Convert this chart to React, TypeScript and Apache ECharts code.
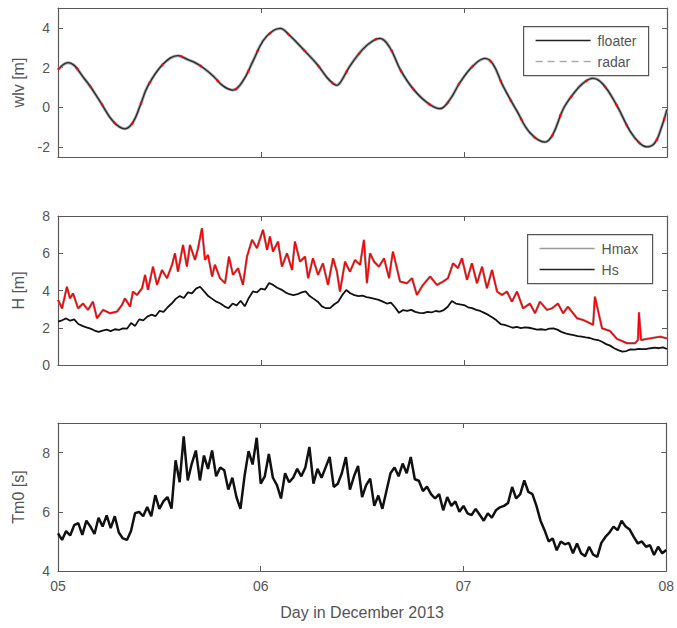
import React, { useEffect, useRef } from "react";
import * as echarts from "echarts";

// ---- Panel 1: water level (days in December 2013) ----
const wlvDays = [5.0, 5.049, 5.133, 5.207, 5.271, 5.33, 5.369, 5.404, 5.443, 5.517, 5.591, 5.64, 5.675, 5.714, 5.764, 5.813, 5.862, 5.911, 5.961, 6.01, 6.059, 6.094, 6.143, 6.207, 6.276, 6.325, 6.355, 6.374, 6.394, 6.438, 6.502, 6.552, 6.586, 6.635, 6.685, 6.744, 6.818, 6.882, 6.931, 6.98, 7.044, 7.103, 7.143, 7.192, 7.261, 7.325, 7.399, 7.438, 7.488, 7.537, 7.586, 7.635, 7.685, 7.754, 7.818, 7.867, 7.901, 7.941, 7.975, 8.0];
const wlvFloater = [1.9, 2.25, 1.4, 0.3, -0.7, -1.08, -0.76, 0.07, 1.08, 2.17, 2.6, 2.4, 2.25, 2.0, 1.58, 1.08, 0.87, 1.33, 2.34, 3.35, 3.85, 3.97, 3.6, 2.93, 2.17, 1.5, 1.2, 1.11, 1.3, 2.08, 2.93, 3.35, 3.47, 3.0, 1.92, 1.0, 0.24, -0.07, 0.4, 1.25, 2.08, 2.46, 2.17, 1.08, -0.19, -1.28, -1.75, -1.36, -0.1, 0.66, 1.21, 1.46, 1.16, 0.07, -1.2, -1.82, -1.99, -1.78, -0.94, -0.1];
const wlvRadar = wlvFloater.slice();

// ---- Panel 2: wave heights ----
// Hs sampled every 0.02 day from 05 Dec 00:00
const sampleStart = 5;
const sampleStep = 0.02;
const hsValues = [
  2.33, 2.4, 2.5, 2.38, 2.45, 2.2, 2.1, 2.02, 1.95, 1.85,
  1.78, 1.85, 1.9, 1.82, 1.92, 1.88, 1.97, 1.95, 2.25, 2.1,
  2.45, 2.4, 2.6, 2.7, 2.62, 2.9, 2.85, 3.1, 3.3, 3.55,
  3.7, 3.6, 3.9, 3.85, 4.1, 4.2, 3.95, 3.7, 3.55, 3.4,
  3.3, 3.15, 3.05, 3.3, 3.2, 3.45, 3.15, 3.6, 3.95, 3.9,
  4.1, 4.05, 4.4, 4.3, 4.15, 4.05, 3.9, 3.8, 3.75, 3.8,
  3.9, 3.95, 3.7, 3.55, 3.4, 3.15, 3.05, 3.05, 3.25, 3.4,
  3.75, 4.03, 3.85, 3.75, 3.7, 3.72, 3.65, 3.6, 3.55, 3.5,
  3.4, 3.3, 3.35, 3.1, 2.8, 2.95, 2.9, 2.96, 2.85, 2.8,
  2.78, 2.85, 2.82, 2.9, 2.87, 2.95, 3.13, 3.44, 3.3, 3.25,
  3.22, 3.1, 3.05, 2.96, 2.9, 2.8, 2.69, 2.55, 2.4, 2.2,
  2.15, 2.08, 2.0, 2.05, 1.98, 2.02, 2.0, 1.95, 1.9, 1.92,
  1.88, 1.95, 1.97, 1.9, 1.78, 1.7, 1.65, 1.6, 1.55, 1.52,
  1.48, 1.45, 1.38, 1.34, 1.25, 1.12, 1.04, 0.9, 0.8, 0.72,
  0.75, 0.84, 0.82, 0.86, 0.85, 0.86, 0.9, 0.93, 0.9, 0.95, 0.86,
];

const hmaxDays = [5.0, 5.02, 5.044, 5.059, 5.074, 5.099, 5.123, 5.148, 5.172, 5.192, 5.222, 5.256, 5.291, 5.315, 5.33, 5.355, 5.369, 5.389, 5.414, 5.429, 5.443, 5.468, 5.488, 5.512, 5.537, 5.562, 5.576, 5.591, 5.616, 5.635, 5.65, 5.675, 5.69, 5.709, 5.724, 5.739, 5.759, 5.773, 5.798, 5.823, 5.842, 5.862, 5.887, 5.911, 5.931, 5.956, 5.98, 6.01, 6.03, 6.044, 6.059, 6.084, 6.103, 6.128, 6.153, 6.167, 6.192, 6.217, 6.232, 6.256, 6.281, 6.305, 6.33, 6.355, 6.374, 6.389, 6.414, 6.438, 6.463, 6.488, 6.507, 6.522, 6.537, 6.557, 6.581, 6.606, 6.631, 6.64, 6.65, 6.685, 6.719, 6.744, 6.768, 6.798, 6.833, 6.867, 6.897, 6.921, 6.946, 6.97, 6.99, 7.015, 7.039, 7.064, 7.089, 7.113, 7.138, 7.163, 7.187, 7.212, 7.236, 7.261, 7.291, 7.325, 7.35, 7.374, 7.409, 7.433, 7.463, 7.488, 7.512, 7.557, 7.586, 7.621, 7.636, 7.645, 7.68, 7.719, 7.754, 7.803, 7.842, 7.857, 7.862, 7.872, 7.916, 7.966, 8.0];
const hmaxValues = [3.5, 3.04, 4.2, 3.58, 3.85, 3.04, 3.3, 2.96, 3.4, 2.51, 2.96, 2.78, 2.87, 3.22, 3.58, 3.13, 3.94, 3.76, 4.12, 4.84, 4.03, 5.28, 4.3, 5.1, 4.66, 5.38, 6.0, 5.01, 6.45, 5.28, 6.45, 5.64, 6.27, 7.35, 5.64, 5.91, 4.75, 5.38, 4.66, 4.39, 5.82, 4.84, 5.2, 4.3, 5.82, 6.72, 6.27, 7.26, 6.18, 6.9, 6.09, 6.63, 5.28, 6.0, 5.1, 6.63, 5.55, 5.82, 4.66, 5.73, 4.84, 5.46, 4.3, 5.73, 5.01, 3.94, 5.55, 5.01, 5.64, 5.38, 6.72, 4.39, 6.0, 5.55, 5.28, 5.73, 4.66, 5.38, 6.09, 4.48, 4.39, 4.66, 3.76, 4.3, 4.75, 4.3, 4.48, 4.66, 5.46, 5.2, 5.73, 4.57, 5.46, 4.39, 5.28, 4.12, 5.1, 3.94, 3.76, 3.94, 3.4, 3.94, 3.04, 3.3, 2.78, 3.4, 2.96, 3.04, 3.3, 2.78, 3.13, 2.51, 2.42, 2.24, 2.15, 3.67, 1.97, 1.83, 1.4, 1.17, 1.17, 1.34, 2.83, 1.34, 1.43, 1.52, 1.43];

// ---- Panel 3: mean period Tm0, sampled every 0.02 day ----
const tmValues = [
  5.27, 5.05, 5.35, 5.2, 5.55, 5.62, 5.22, 5.7, 5.5, 5.25,
  5.8, 5.5, 5.88, 5.45, 5.85, 5.3, 5.1, 5.05, 5.35, 5.95,
  6.0, 5.85, 6.16, 5.85, 6.56, 6.1, 6.35, 6.5, 6.11, 7.74,
  7.0, 8.55, 7.06, 7.63, 8.07, 7.06, 7.9, 7.45, 8.07, 7.2,
  7.5, 7.4, 6.75, 7.15, 6.5, 6.1, 7.2, 8.05, 7.6, 8.5,
  6.95, 7.2, 7.95, 7.15, 6.9, 6.45, 7.3, 7.0, 7.15, 7.45,
  7.2, 7.5, 8.19, 6.95, 7.45, 7.15, 7.5, 7.85, 6.84, 6.95,
  7.3, 7.85, 6.75, 7.2, 7.55, 6.5, 6.9, 7.12, 6.2, 6.55,
  6.1, 6.7, 7.3, 7.5, 7.2, 7.63, 7.3, 7.85, 7.1, 7.05,
  6.7, 6.85, 6.6, 6.45, 6.6, 6.05, 6.5, 6.2, 6.35, 6.0,
  6.2, 5.95, 5.89, 6.1, 5.9, 5.7, 5.95, 5.8, 6.05, 6.15,
  6.2, 6.3, 6.84, 6.45, 6.6, 7.06, 6.67, 6.6, 6.2, 5.7,
  5.38, 5.0, 5.1, 4.7, 5.0, 4.9, 4.95, 4.6, 4.93, 4.6,
  4.5, 4.82, 4.55, 4.48, 4.95, 5.15, 5.3, 5.5, 5.38, 5.7,
  5.5, 5.4, 5.15, 4.93, 5.0, 4.82, 4.87, 4.54, 4.82, 4.6, 4.71,
];

const xTickLabels: Record<string, string> = { "5": "05", "6": "06", "7": "07", "8": "08" };

const zip = (xs: number[], ys: number[]) => xs.map((x, i) => [x, ys[i]]);
const sampled = (ys: number[]) => ys.map((y, i) => [+(sampleStart + i * sampleStep).toFixed(4), y]);

const AXIS_COLOR = "#5a5a5a";
const TEXT_COLOR = "#555";
const FONT = "Liberation Sans, Arial, sans-serif";

export default function App() {
  const ref = useRef<HTMLDivElement>(null);
  useEffect(() => {
    if (!ref.current) return;
    const chart = echarts.init(ref.current, undefined, { renderer: "svg" });
    const grids = [
      { left: 58, top: 8, width: 609, height: 149 },
      { left: 58, top: 216, width: 609, height: 149 },
      { left: 58, top: 423, width: 609, height: 148 },
    ];
    const yRanges = [
      { min: -2.5, max: 5, interval: 2, name: "wlv [m]", tickMin: -2 },
      { min: 0, max: 8, interval: 2, name: "H [m]", tickMin: 0 },
      { min: 4, max: 9, interval: 2, name: "Tm0 [s]", tickMin: 4 },
    ];
    const xAxes: any[] = [];
    const yAxes: any[] = [];
    grids.forEach((_, i) => {
      const common = {
        type: "value",
        min: 5,
        max: 8,
        interval: 1,
        gridIndex: i,
        axisLine: { show: true, onZero: false, lineStyle: { color: AXIS_COLOR, width: 1.2 } },
        axisTick: { show: true, inside: true, length: 5, lineStyle: { color: AXIS_COLOR } },
        splitLine: { show: false },
      };
      xAxes.push({
        ...common,
        position: "bottom",
        axisLabel: {
          show: i === 2,
          color: TEXT_COLOR,
          fontSize: 14,
          fontFamily: FONT,
          margin: 8,
          formatter: (v: number) => xTickLabels[String(v)] ?? "",
        },
        name: i === 2 ? "Day in December 2013" : "",
        nameLocation: "middle",
        nameGap: 33,
        nameTextStyle: { color: TEXT_COLOR, fontSize: 16, fontFamily: FONT },
      });
      xAxes.push({ ...common, position: "top", axisLabel: { show: false } });
      const r = yRanges[i];
      const ticks: number[] = [];
      for (let v = r.tickMin; v <= r.max + 1e-9; v += r.interval) ticks.push(v);
      const yCommon = {
        type: "value",
        min: r.min,
        max: r.max,
        gridIndex: i,
        axisLine: { show: true, onZero: false, lineStyle: { color: AXIS_COLOR, width: 1.2 } },
        axisTick: { show: true, inside: true, length: 5, lineStyle: { color: AXIS_COLOR }, customValues: ticks },
        splitLine: { show: false },
      };
      yAxes.push({
        ...yCommon,
        position: "left",
        axisLabel: { show: true, color: TEXT_COLOR, fontSize: 14, fontFamily: FONT, margin: 8, customValues: ticks },
        name: r.name,
        nameLocation: "middle",
        nameGap: 32,
        nameRotate: 90,
        nameTextStyle: { color: TEXT_COLOR, fontSize: 16, fontFamily: FONT },
      });
      yAxes.push({ ...yCommon, position: "right", axisLabel: { show: false } });
    });

    const legendBox = (left: number, top: number, items: { label: string; color: string; dash?: number[] }[]) => {
      const children: any[] = [
        {
          type: "rect",
          shape: { x: 0, y: 0, width: 125, height: 49 },
          style: { fill: "#fff", stroke: "#555", lineWidth: 1.2 },
        },
      ];
      items.forEach((it, k) => {
        const y = 14 + k * 21;
        children.push({
          type: "line",
          shape: { x1: 12, y1: y, x2: 67, y2: y },
          style: { stroke: it.color, lineWidth: 1.5, lineDash: it.dash },
        });
        children.push({
          type: "text",
          x: 74,
          y: y,
          style: { text: it.label, fill: TEXT_COLOR, fontSize: 14, fontFamily: FONT, verticalAlign: "middle" },
        });
      });
      return { type: "group", left, top, z: 100, children };
    };

    chart.setOption({
      animation: false,
      backgroundColor: "#fff",
      grid: grids,
      xAxis: xAxes,
      yAxis: yAxes,
      series: [
        {
          type: "line",
          name: "radar",
          xAxisIndex: 0,
          yAxisIndex: 0,
          data: zip(wlvDays, wlvRadar),
          smooth: 0.4,
          showSymbol: false,
          lineStyle: { color: "#a8a8a8", width: 3 },
        },
        {
          type: "line",
          name: "floater",
          xAxisIndex: 0,
          yAxisIndex: 0,
          data: zip(wlvDays, wlvFloater),
          smooth: 0.4,
          showSymbol: false,
          lineStyle: { color: "#2a2a2a", width: 1.3 },
        },
        {
          type: "line",
          name: "radar-red",
          xAxisIndex: 0,
          yAxisIndex: 0,
          data: zip(wlvDays, wlvRadar),
          smooth: 0.4,
          showSymbol: false,
          lineStyle: { color: "#ff0000", width: 2, type: [3, 19] },
        },
        {
          type: "line",
          name: "Hmax",
          xAxisIndex: 2,
          yAxisIndex: 2,
          data: zip(hmaxDays, hmaxValues),
          showSymbol: false,
          lineStyle: { color: "#9a9a9a", width: 2.4 },
        },
        {
          type: "line",
          name: "Hmax-red",
          xAxisIndex: 2,
          yAxisIndex: 2,
          data: zip(hmaxDays, hmaxValues),
          showSymbol: false,
          lineStyle: { color: "#ff0000", width: 1.5 },
        },
        {
          type: "line",
          name: "Hs",
          xAxisIndex: 2,
          yAxisIndex: 2,
          data: sampled(hsValues),
          showSymbol: false,
          lineStyle: { color: "#111", width: 1.8 },
        },
        {
          type: "line",
          name: "Tm0",
          xAxisIndex: 4,
          yAxisIndex: 4,
          data: sampled(tmValues),
          showSymbol: false,
          lineStyle: { color: "#111", width: 2.5 },
        },
      ],
      graphic: [
        legendBox(523, 26, [
          { label: "floater", color: "#222" },
          { label: "radar", color: "#aaa", dash: [7, 5] },
        ]),
        legendBox(527, 234, [
          { label: "Hmax", color: "#9a9a9a" },
          { label: "Hs", color: "#222" },
        ]),
      ],
    });
    return () => chart.dispose();
  }, []);
  return (
    <div
      ref={ref}
      style={{ position: "fixed", left: 0, top: 0, width: 677, height: 628, background: "#fff" }}
    />
  );
}
